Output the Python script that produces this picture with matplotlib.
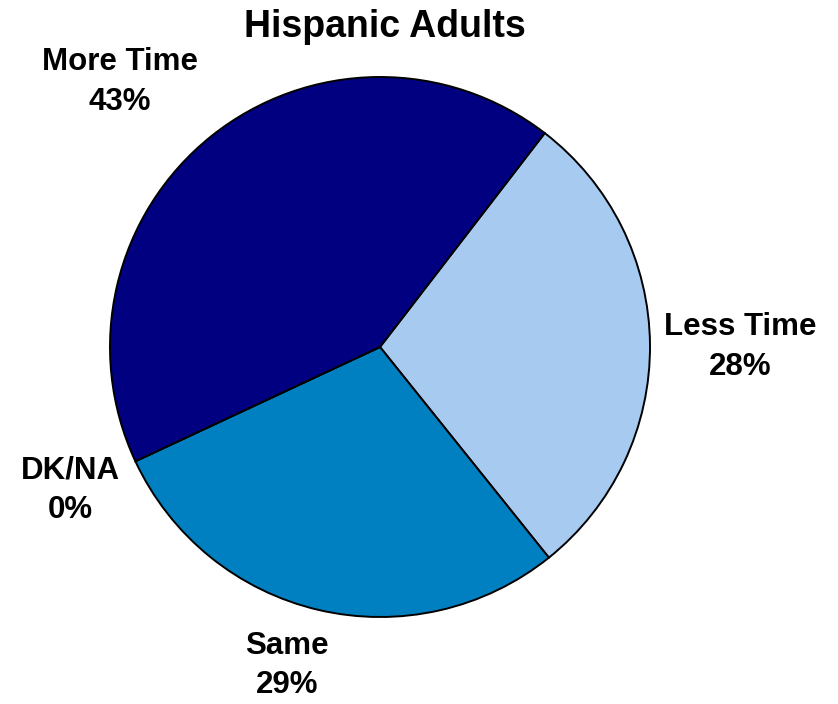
import matplotlib.pyplot as plt

plt.rcParams['font.family'] = ['Liberation Sans', 'DejaVu Sans']

# slices in clockwise order, starting from the top-right boundary
labels = ['Less Time', 'Same', 'DK/NA', 'More Time']
shares = [28.8, 28.8, 0.0, 42.4]          # slice sizes
shown_pct = ['28%', '29%', '0%', '43%']    # percentages as printed
colors = ['#A6CAF0', '#0080C0', '#7F7F7F', '#000080']

# label block centres, in pie-radius units
label_pos = [(1.333, 0.0), (-0.344, -1.18), (-1.148, -0.530), (-0.963, 0.981)]

fig = plt.figure(figsize=(8.38, 7.04), dpi=100)
ax = fig.add_axes([0, 0, 1, 1])

ax.pie(shares, colors=colors, startangle=52.4, counterclock=False,
       wedgeprops=dict(edgecolor='black', linewidth=1.4))

for lab, pct, (x, y) in zip(labels, shown_pct, label_pos):
    ax.text(x, y, f'{lab}\n{pct}', ha='center', va='center',
            fontsize=22.5, fontweight='bold', linespacing=1.42)

# centre at pixel (380, 347), radius 270 px
r = 270.0
ax.set_xlim(-380 / r, (838 - 380) / r)
ax.set_ylim(-(704 - 347) / r, 347 / r)
ax.axis('off')

fig.text(385 / 838, 1 - 27 / 704, 'Hispanic Adults', ha='center', va='center',
         fontsize=27, fontweight='bold')

fig.savefig('out.png', dpi=100)
